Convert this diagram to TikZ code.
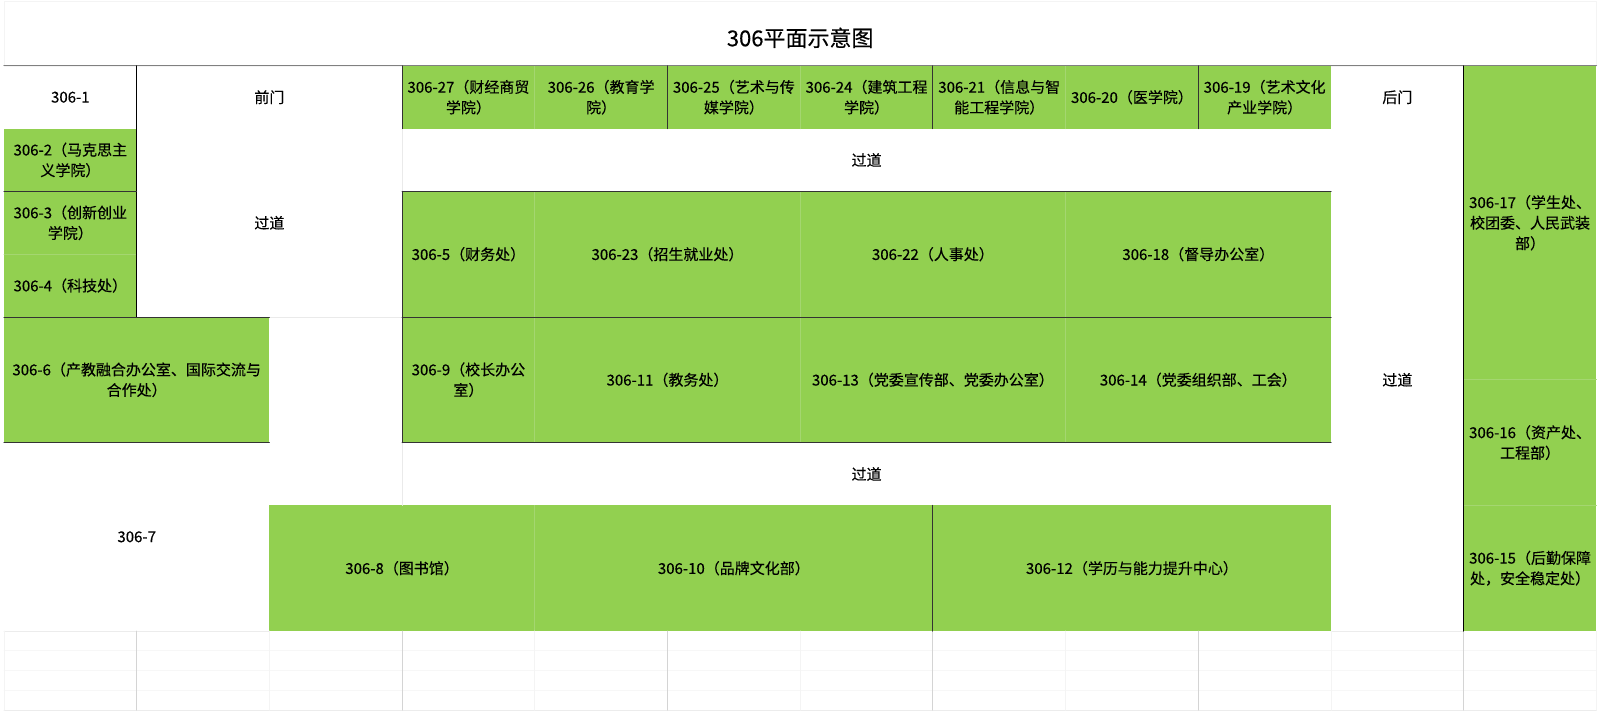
\documentclass[tikz,border=0pt]{standalone}
\usepackage{fontspec}
\setmainfont{Noto Sans CJK SC}[FakeBold=0.3]
\definecolor{roomgreen}{RGB}{146,208,80}
\definecolor{seamgreen}{RGB}{164,214,112}
\definecolor{gridgray}{RGB}{212,212,212}
\begin{document}
\begin{tikzpicture}[line join=round, line cap=round, x=132.7pt, y=-62.8pt,
	font=\fontsize{15}{20.5}\selectfont,
	room/.style={fill=roomgreen},
	wall/.style={black!80, line width=1pt},
	txt/.style={align=center, inner sep=0pt}]
	\def\ncol{12}
	\def\lastrow{10.26}
	\useasboundingbox[fill=white] (-0.0301,-1.0478) rectangle (12.0271,10.3217);
	\draw[gridgray!25] (0,-1.03) rectangle (\ncol,0);
	\node[font=\fontsize{22}{26}\selectfont] (title) at (6,-0.446) {306平面示意图};
	% gruene Raeume
	\foreach \a/\b/\c/\d in {3/0/10/1, 0/1/1/4, 3/2/10/4, 3/4/10/6, 0/4/2/6, 2/7/10/9, 11/0/12/9}
		\fill[room] (\a,\b) rectangle (\c,\d);
	\foreach \a/\b/\c/\d in {4/0/4/1, 6/0/6/1, 8/0/8/1, 4/2/4/6, 6/2/6/6, 8/2/8/6, 4/7/4/9,
		0/3/1/3, 11/5/12/5, 11/7/12/7}
		\draw[seamgreen, line width=.8pt] (\a,\b) -- (\c,\d);
	% leere Zeilen unten
	\foreach \y in {9.31,9.62,9.94}
		\draw[gridgray!18, line width=.8pt] (0,\y) -- (\ncol,\y);
	\draw[gridgray!45, line width=.8pt] (0,9) -- (2,9) (10,9) -- (11,9) (0,\lastrow) -- (\ncol,\lastrow);
	\foreach \x in {0,2,...,12}
		\draw[gridgray!25, line width=.8pt] (\x,9) -- (\x,\lastrow);
	\foreach \x in {1,3,...,11}
		\draw[gridgray, line width=.9pt] (\x,9) -- (\x,\lastrow);
	\draw[gridgray!50, line width=.8pt] (3,1) -- (3,2) (2,4) -- (3,4) (3,6) -- (3,7);
	% Waende
	\draw[black!50, line width=1.3pt] (0,0) -- (\ncol,0);
	\draw[black, line width=1pt] (1,0) -- (1,4);
	\draw[black, line width=1pt] (11,0) -- (11,9);
	\draw[wall] (3,0) -- (3,1) (5,0) -- (5,1) (7,0) -- (7,1) (9,0) -- (9,1);
	\draw[wall] (3,2) -- (3,6) (7,7) -- (7,9);
	\draw[wall] (0,2) -- (1,2) (3,2) -- (10,2);
	\draw[wall] (0,4) -- (2,4) (3,4) -- (10,4);
	\draw[wall] (0,6) -- (2,6) (3,6) -- (10,6);
	% Beschriftung
	\node[txt] (r1) at (0.5,0.5) {306-1};
	\node[txt] (front) at (2,0.5) {前门};
	\node[txt] (r27) at (3.5,0.5) {306-27（财经商贸\\学院）};
	\node[txt] (r26) at (4.5,0.5) {306-26（教育学\\院）};
	\node[txt] (r25) at (5.5,0.5) {306-25（艺术与传\\媒学院）};
	\node[txt] (r24) at (6.5,0.5) {306-24（建筑工程\\学院）};
	\node[txt] (r21) at (7.5,0.5) {306-21（信息与智\\能工程学院）};
	\node[txt] (r20) at (8.5,0.5) {306-20（医学院）};
	\node[txt] (r19) at (9.5,0.5) {306-19（艺术文化\\产业学院）};
	\node[txt] (back) at (10.5,0.5) {后门};
	\node[txt] (r17) at (11.5,2.5) {306-17（学生处、\\校团委、人民武装\\部）};
	\node[txt] (r16) at (11.5,6) {306-16（资产处、\\工程部）};
	\node[txt] (r15) at (11.5,8) {306-15（后勤保障\\处，安全稳定处）};
	\node[txt] (r2) at (0.5,1.5) {306-2（马克思主\\义学院）};
	\node[txt] (r3) at (0.5,2.5) {306-3（创新创业\\学院）};
	\node[txt] (r4) at (0.5,3.5) {306-4（科技处）};
	\node[txt] (hallA) at (2,2.5) {过道};
	\node[txt] (hallB) at (6.5,1.5) {过道};
	\node[txt] (hallC) at (6.5,6.5) {过道};
	\node[txt] (hallD) at (10.5,5) {过道};
	\node[txt] (r5) at (3.5,3) {306-5（财务处）};
	\node[txt] (r23) at (5,3) {306-23（招生就业处）};
	\node[txt] (r22) at (7,3) {306-22（人事处）};
	\node[txt] (r18) at (9,3) {306-18（督导办公室）};
	\node[txt] (r6) at (1,5) {306-6（产教融合办公室、国际交流与\\合作处）};
	\node[txt] (r9) at (3.5,5) {306-9（校长办公\\室）};
	\node[txt] (r11) at (5,5) {306-11（教务处）};
	\node[txt] (r13) at (7,5) {306-13（党委宣传部、党委办公室）};
	\node[txt] (r14) at (9,5) {306-14（党委组织部、工会）};
	\node[txt] (r7) at (1,7.5) {306-7};
	\node[txt] (r8) at (3,8) {306-8（图书馆）};
	\node[txt] (r10) at (5.5,8) {306-10（品牌文化部）};
	\node[txt] (r12) at (8.5,8) {306-12（学历与能力提升中心）};
\end{tikzpicture}
\end{document}
